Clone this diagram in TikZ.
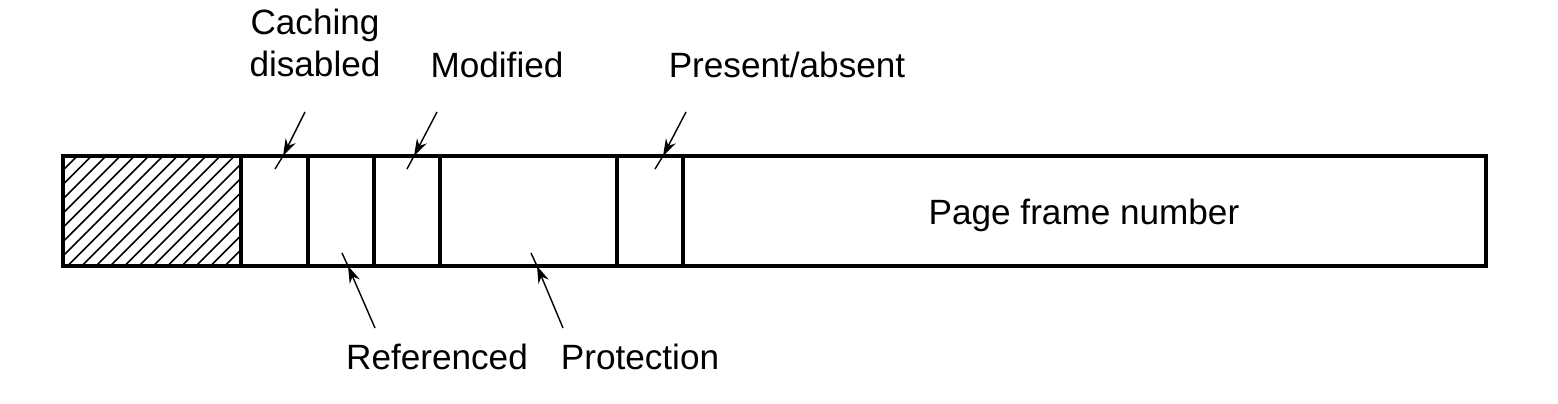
\documentclass[tikz,border=0pt]{standalone}
\usepackage{fontspec}
\setmainfont{Liberation Sans}
\usetikzlibrary{arrows.meta}

\tikzset{
  field/.style={line width=1.1pt},
  hatchline/.style={line width=0.45pt},
  pointer/.style={line width=0.4pt, -{Stealth[length=1.7mm,width=1.1mm]}},
  pointertail/.style={line width=0.4pt},
  fieldtext/.style={font=\fontsize{10}{12.2}\selectfont, inner sep=0pt, align=center}
}

\begin{document}
\begin{tikzpicture}
            \useasboundingbox (0,0) rectangle (15.58,4.04);

            % Draw the hatched (unused) bits
            \begin{scope}
                \clip (0.63,1.38) rectangle (2.41,2.48);
                \foreach \i in {0,...,21}
                    \draw[hatchline] ({0.63+0.143*\i-1.1},1.38) -- ++(1.1,1.1);
            \end{scope}

            % Draw the entry and its fields
            \draw[field] (0.63,1.38) rectangle (14.86,2.48);
            \foreach \x in {2.41,3.08,3.74,4.40,6.17,6.83}
                \draw[field] (\x,1.38) -- (\x,2.48);

            \node[fieldtext, anchor=base] (pfn) at (10.84,1.79) {Page frame number};

            % Draw the labels above the entry
            \node[fieldtext, anchor=south] (cache) at (3.15,3.26) {Caching\\disabled};
            \node[fieldtext, anchor=base] (mod) at (4.97,3.26) {Modified};
            \node[fieldtext, anchor=base] (pres) at (7.87,3.26) {Present/absent};

            % Draw the labels below the entry
            \node[fieldtext, anchor=base] (ref) at (4.37,0.34) {Referenced};
            \node[fieldtext, anchor=base] (prot) at (6.40,0.34) {Protection};

            % Arrows from above
            \coordinate (cacheS) at (3.05,2.92);
            \coordinate (cacheE) at (2.83,2.48);
            \coordinate (cacheI) at (2.75,2.35);
            \draw[pointer] (cacheS) -- (cacheE);
            \draw[pointertail] (cacheE) -- (cacheI);

            \coordinate (modS) at (4.37,2.92);
            \coordinate (modE) at (4.14,2.48);
            \coordinate (modI) at (4.07,2.35);
            \draw[pointer] (modS) -- (modE);
            \draw[pointertail] (modE) -- (modI);

            \coordinate (presS) at (6.86,2.92);
            \coordinate (presE) at (6.63,2.48);
            \coordinate (presI) at (6.55,2.35);
            \draw[pointer] (presS) -- (presE);
            \draw[pointertail] (presE) -- (presI);

            % Arrows from below
            \coordinate (refS) at (3.75,0.76);
            \coordinate (refE) at (3.48,1.38);
            \coordinate (refI) at (3.42,1.51);
            \draw[pointer] (refS) -- (refE);
            \draw[pointertail] (refE) -- (refI);

            \coordinate (protS) at (5.63,0.76);
            \coordinate (protE) at (5.37,1.38);
            \coordinate (protI) at (5.31,1.51);
            \draw[pointer] (protS) -- (protE);
            \draw[pointertail] (protE) -- (protI);

\end{tikzpicture}
\end{document}
